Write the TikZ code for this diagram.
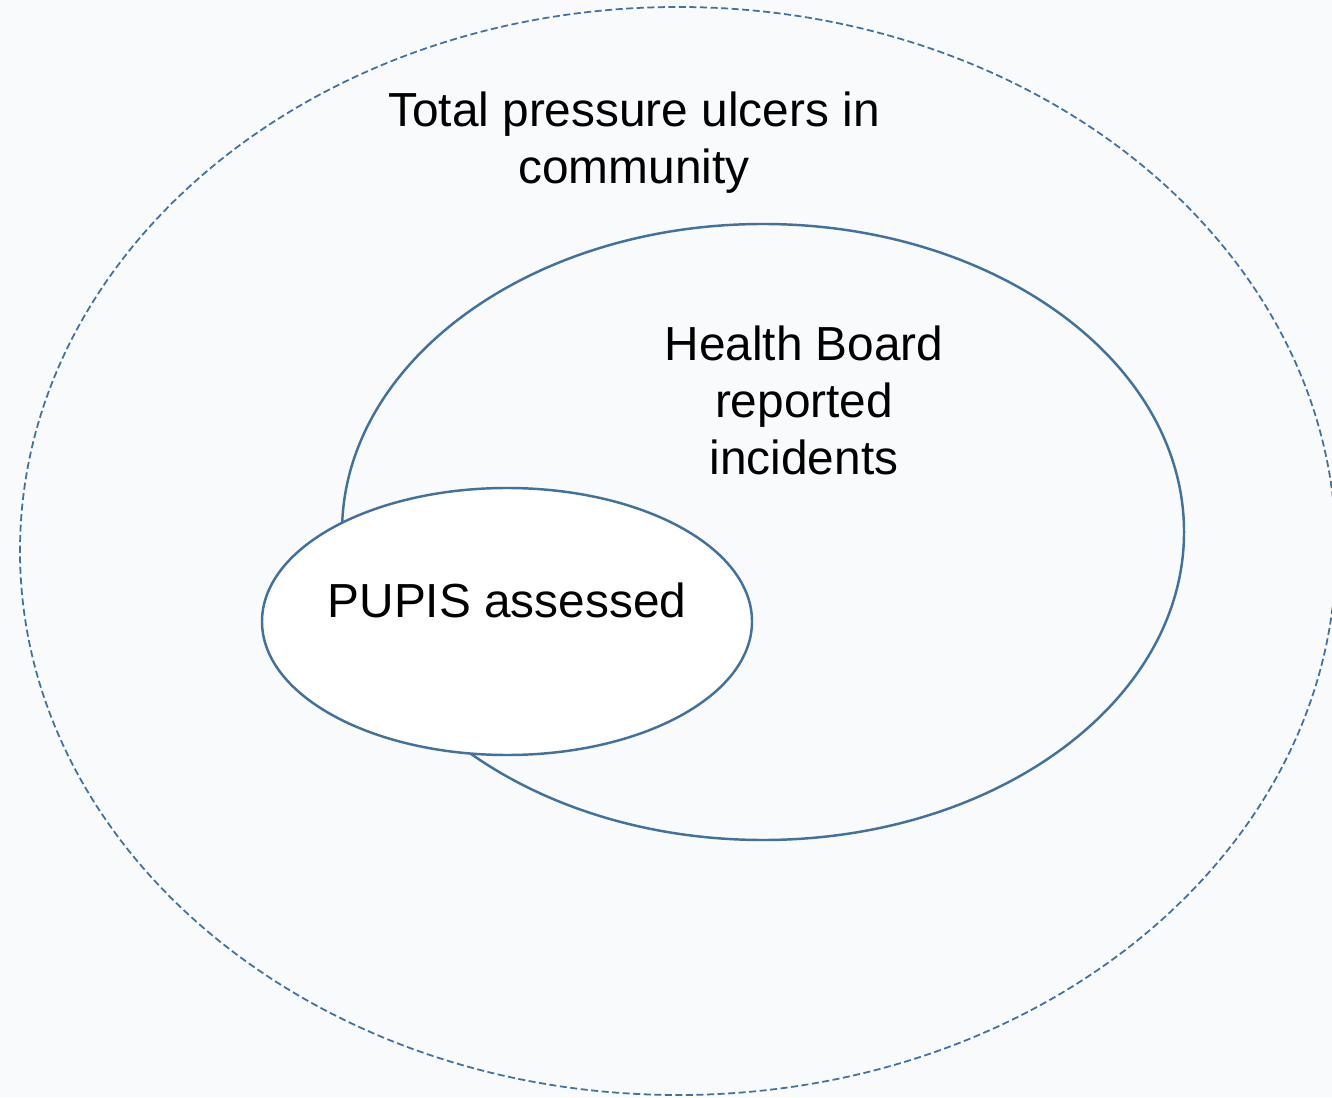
\documentclass[tikz,border=0pt]{standalone}
\usepackage{fontspec}
\setmainfont{Liberation Sans}
\usepackage{tikz}
\usepgflibrary{shapes}
\definecolor{edgeblue}{HTML}{41719C}
\definecolor{paper}{HTML}{F8FAFC}
\tikzset{
  venn/.style={ellipse, draw=edgeblue, line width=0.7pt, inner sep=0pt},
  lbl/.style={align=center, inner sep=0pt, font=\fontsize{13.6}{16.2}\selectfont}
}

\begin{document}
\begin{tikzpicture} % 3 sets
      \useasboundingbox (0,0) rectangle (13.32,10.97);
      \clip (0,0) rectangle (13.32,10.97);
      \fill[paper] (0,0) rectangle (13.32,10.97);
      \node[name=total, venn, dashed, line width=0.5pt, dash pattern=on 2pt off 1pt,
            minimum width=13.16cm, minimum height=10.88cm] at (6.78,5.46){};
      \node[name=board, venn, fill=paper, minimum width=8.42cm, minimum height=6.16cm] at (7.63,5.65){};
      \node[name=pupis, venn, fill=white, minimum width=4.90cm, minimum height=2.67cm] at (5.07,4.755){};
      \node[name=totaltxt, lbl] at (6.34,9.54){Total pressure ulcers in\\community};
      \node[name=boardtxt, lbl] at (8.04,6.97){Health Board\\reported\\incidents};
      \node[name=pupistxt, lbl] at (5.07,4.97){PUPIS assessed};
   \end{tikzpicture}
\end{document}
